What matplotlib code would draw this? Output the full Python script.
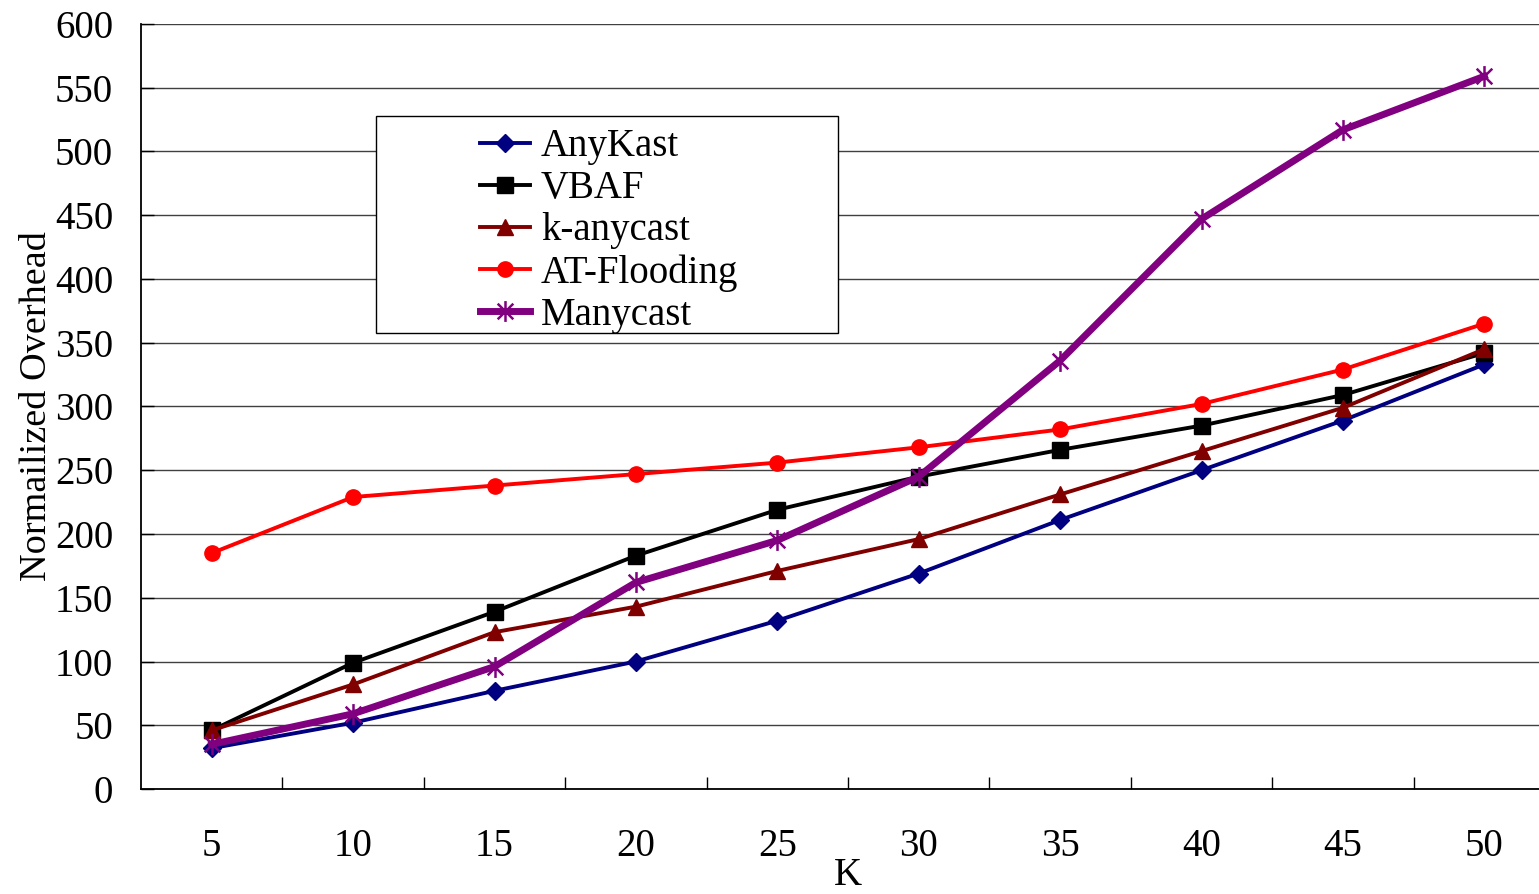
import numpy as np
import matplotlib.pyplot as plt
from matplotlib.path import Path
from matplotlib.patches import Rectangle

plt.rcParams['font.family'] = ['Liberation Serif', 'DejaVu Serif']
plt.rcParams['font.size'] = 28

# Daten
k_values = [5, 10, 15, 20, 25, 30, 35, 40, 45, 50]
anykast = [32, 52, 77, 100, 132, 169, 211, 250, 289, 333]
vbaf = [46, 99, 139, 183, 219, 245, 266, 285, 309, 342]
k_anycast = [46, 82, 123, 143, 171, 196, 231, 265, 299, 345]
at_flooding = [185, 229, 238, 247, 256, 268, 282, 302, 329, 365]
manycast = [35, 59, 96, 162, 195, 245, 336, 447, 517, 559]

# Excel-Stern: senkrechte Linie plus X
star = Path([(0, -1), (0, 1), (-0.75, -0.75), (0.75, 0.75), (-0.75, 0.75), (0.75, -0.75)],
            [Path.MOVETO, Path.LINETO, Path.MOVETO, Path.LINETO, Path.MOVETO, Path.LINETO])

W, H = 1539, 894
fig = plt.figure(figsize=(W/100, H/100), dpi=100)
ax = fig.add_axes([141/W, (H-789)/H, (1555-141)/W, (789-24)/H])

ax.plot(k_values, anykast, color='#000080', lw=2.8, marker='D', ms=9, label='AnyKast')
ax.plot(k_values, vbaf, color='black', lw=2.8, marker='s', ms=11, label='VBAF')
ax.plot(k_values, k_anycast, color='#800000', lw=2.8, marker='^', ms=12, label='k-anycast')
ax.plot(k_values, at_flooding, color='red', lw=2.8, marker='o', ms=11, label='AT-Flooding')
ax.plot(k_values, manycast, color='#800080', lw=5, marker=star, ms=15, mew=1.8,
        mfc='none', mec='#800080', label='Manycast')

ax.set_xlim(2.5, 52.5)
ax.set_ylim(0, 600)
ax.set_yticks(np.arange(0, 601, 50))
ax.set_xticks(k_values)
ax.set_xticks(np.arange(7.5, 50, 5), minor=True)
ax.tick_params(axis='x', which='major', length=0, pad=28)
ax.tick_params(axis='x', which='minor', direction='in', length=9, width=1)
ax.tick_params(axis='y', direction='in', length=9, width=1, pad=20)
ax.grid(axis='y', color='#404040', lw=1)
ax.set_axisbelow(True)
for s in ['top', 'right']:
    ax.spines[s].set_visible(False)
for s in ['left', 'bottom']:
    ax.spines[s].set_linewidth(1.3)

ax.set_xlabel('K', labelpad=-6)
ax.set_ylabel('Normailized Overhead', fontsize=27.5, labelpad=1)

# Legende mit eigenem Rahmen
ax.add_patch(Rectangle((376/W, (H-333)/H), (838-376)/W, (333-116)/H,
                       transform=fig.transFigure, fill=True, fc='white',
                       ec='black', lw=1, zorder=5, clip_on=False))
leg = ax.legend(loc='center', bbox_to_anchor=(609/W, (H-231)/H), bbox_transform=fig.transFigure,
                frameon=False, handlelength=1.29, handletextpad=0.28, labelspacing=0.13,
                borderpad=0, fontsize=28)
leg.set_zorder(6)

fig.savefig('out.png', dpi=100)
